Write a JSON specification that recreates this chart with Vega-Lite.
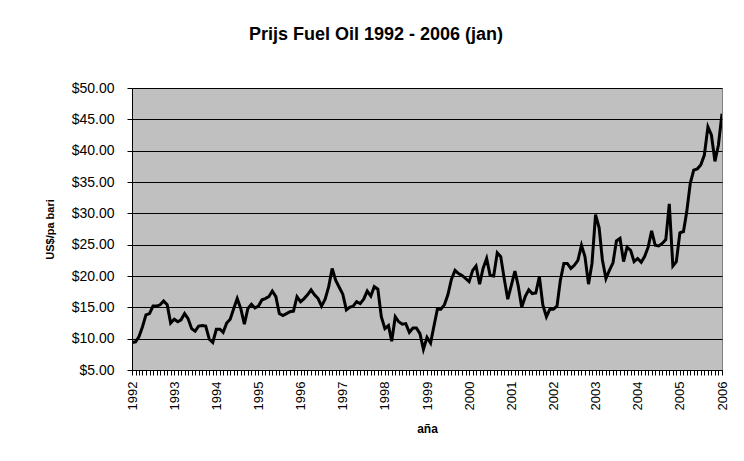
{
  "$schema": "https://vega.github.io/schema/vega-lite/v6.json",
  "autosize": "none",
  "width": 590,
  "height": 282,
  "padding": {"left": 132, "top": 88, "right": 22, "bottom": 91},
  "background": "white",
  "title": {
    "text": "Prijs Fuel Oil 1992 - 2006 (jan)",
    "font": "Liberation Sans",
    "fontSize": 18,
    "fontWeight": "bold",
    "color": "black",
    "anchor": "middle",
    "frame": "group",
    "dx": -51,
    "offset": 37
  },
  "data": {"values": [
    {"d":"1992-01","p":9.4},{"d":"1992-02","p":9.5},{"d":"1992-03","p":10.3},{"d":"1992-04","p":11.9},{"d":"1992-05","p":13.8},{"d":"1992-06","p":14.0},{"d":"1992-07","p":15.2},{"d":"1992-08","p":15.2},{"d":"1992-09","p":15.4},{"d":"1992-10","p":16.0},{"d":"1992-11","p":15.4},{"d":"1992-12","p":12.5},
    {"d":"1993-01","p":13.1},{"d":"1993-02","p":12.7},{"d":"1993-03","p":13.0},{"d":"1993-04","p":14.0},{"d":"1993-05","p":13.2},{"d":"1993-06","p":11.6},{"d":"1993-07","p":11.2},{"d":"1993-08","p":12.0},{"d":"1993-09","p":12.1},{"d":"1993-10","p":12.0},{"d":"1993-11","p":9.9},{"d":"1993-12","p":9.4},
    {"d":"1994-01","p":11.5},{"d":"1994-02","p":11.5},{"d":"1994-03","p":11.0},{"d":"1994-04","p":12.5},{"d":"1994-05","p":13.1},{"d":"1994-06","p":14.8},{"d":"1994-07","p":16.4},{"d":"1994-08","p":14.8},{"d":"1994-09","p":12.3},{"d":"1994-10","p":14.8},{"d":"1994-11","p":15.5},{"d":"1994-12","p":14.9},
    {"d":"1995-01","p":15.2},{"d":"1995-02","p":16.2},{"d":"1995-03","p":16.4},{"d":"1995-04","p":16.7},{"d":"1995-05","p":17.6},{"d":"1995-06","p":16.7},{"d":"1995-07","p":14.0},{"d":"1995-08","p":13.7},{"d":"1995-09","p":14.0},{"d":"1995-10","p":14.3},{"d":"1995-11","p":14.4},{"d":"1995-12","p":16.7},
    {"d":"1996-01","p":15.9},{"d":"1996-02","p":16.4},{"d":"1996-03","p":17.0},{"d":"1996-04","p":17.8},{"d":"1996-05","p":17.0},{"d":"1996-06","p":16.4},{"d":"1996-07","p":15.2},{"d":"1996-08","p":16.3},{"d":"1996-09","p":18.3},{"d":"1996-10","p":21.2},{"d":"1996-11","p":19.3},{"d":"1996-12","p":18.2},
    {"d":"1997-01","p":17.1},{"d":"1997-02","p":14.6},{"d":"1997-03","p":15.0},{"d":"1997-04","p":15.2},{"d":"1997-05","p":15.9},{"d":"1997-06","p":15.6},{"d":"1997-07","p":16.3},{"d":"1997-08","p":17.6},{"d":"1997-09","p":16.8},{"d":"1997-10","p":18.3},{"d":"1997-11","p":17.9},{"d":"1997-12","p":13.5},
    {"d":"1998-01","p":11.6},{"d":"1998-02","p":12.1},{"d":"1998-03","p":9.6},{"d":"1998-04","p":13.5},{"d":"1998-05","p":12.7},{"d":"1998-06","p":12.3},{"d":"1998-07","p":12.4},{"d":"1998-08","p":11.0},{"d":"1998-09","p":11.7},{"d":"1998-10","p":11.7},{"d":"1998-11","p":10.8},{"d":"1998-12","p":8.3},
    {"d":"1999-01","p":10.2},{"d":"1999-02","p":9.3},{"d":"1999-03","p":11.9},{"d":"1999-04","p":14.7},{"d":"1999-05","p":14.7},{"d":"1999-06","p":15.4},{"d":"1999-07","p":17.0},{"d":"1999-08","p":19.5},{"d":"1999-09","p":20.9},{"d":"1999-10","p":20.4},{"d":"1999-11","p":20.1},{"d":"1999-12","p":19.6},
    {"d":"2000-01","p":19.1},{"d":"2000-02","p":20.9},{"d":"2000-03","p":21.6},{"d":"2000-04","p":18.7},{"d":"2000-05","p":21.2},{"d":"2000-06","p":22.8},{"d":"2000-07","p":20.1},{"d":"2000-08","p":20.0},{"d":"2000-09","p":23.7},{"d":"2000-10","p":23.1},{"d":"2000-11","p":19.5},{"d":"2000-12","p":16.3},
    {"d":"2001-01","p":18.5},{"d":"2001-02","p":20.8},{"d":"2001-03","p":18.5},{"d":"2001-04","p":15.0},{"d":"2001-05","p":16.7},{"d":"2001-06","p":17.8},{"d":"2001-07","p":17.2},{"d":"2001-08","p":17.3},{"d":"2001-09","p":19.9},{"d":"2001-10","p":15.4},{"d":"2001-11","p":13.5},{"d":"2001-12","p":14.7},
    {"d":"2002-01","p":14.7},{"d":"2002-02","p":15.2},{"d":"2002-03","p":19.2},{"d":"2002-04","p":22.0},{"d":"2002-05","p":22.0},{"d":"2002-06","p":21.2},{"d":"2002-07","p":21.7},{"d":"2002-08","p":22.5},{"d":"2002-09","p":24.9},{"d":"2002-10","p":23.1},{"d":"2002-11","p":18.7},{"d":"2002-12","p":22.0},
    {"d":"2003-01","p":29.8},{"d":"2003-02","p":27.7},{"d":"2003-03","p":22.6},{"d":"2003-04","p":19.6},{"d":"2003-05","p":20.9},{"d":"2003-06","p":22.1},{"d":"2003-07","p":25.6},{"d":"2003-08","p":26.0},{"d":"2003-09","p":22.3},{"d":"2003-10","p":24.6},{"d":"2003-11","p":24.1},{"d":"2003-12","p":22.3},
    {"d":"2004-01","p":22.8},{"d":"2004-02","p":22.2},{"d":"2004-03","p":23.1},{"d":"2004-04","p":24.6},{"d":"2004-05","p":27.2},{"d":"2004-06","p":24.9},{"d":"2004-07","p":24.8},{"d":"2004-08","p":25.2},{"d":"2004-09","p":25.8},{"d":"2004-10","p":31.5},{"d":"2004-11","p":21.6},{"d":"2004-12","p":22.3},
    {"d":"2005-01","p":26.9},{"d":"2005-02","p":27.1},{"d":"2005-03","p":30.2},{"d":"2005-04","p":34.8},{"d":"2005-05","p":36.9},{"d":"2005-06","p":37.1},{"d":"2005-07","p":37.7},{"d":"2005-08","p":39.3},{"d":"2005-09","p":43.8},{"d":"2005-10","p":42.5},{"d":"2005-11","p":38.3},{"d":"2005-12","p":40.9},
    {"d":"2006-01","p":45.9}
  ]},
  "mark": {"type": "line", "color": "black", "strokeWidth": 3, "strokeJoin": "miter", "clip": true},
  "encoding": {
    "x": {
      "field": "d",
      "type": "temporal",
      "scale": {"type": "utc", "domain": ["1992-01-01", "2006-01-01"], "nice": false},
      "axis": {
        "title": "aña",
        "tickCount": {"interval": "month", "step": 1},
        "labelExpr": "utcmonth(datum.value) == 0 ? utcFormat(datum.value, '%Y') : ''",
        "labelAngle": -90,
        "labelAlign": "right",
        "labelBaseline": "middle",
        "labelOverlap": false,
        "labelFont": "Liberation Sans",
        "labelFontSize": 13,
        "labelColor": "black",
        "labelPadding": 6,
        "tickSize": 5,
        "tickColor": "black",
        "domainColor": "black",
        "grid": false,
        "titleFont": "Liberation Sans",
        "titleFontSize": 12,
        "titleFontWeight": "bold",
        "titleColor": "black",
        "titlePadding": 14
      }
    },
    "y": {
      "field": "p",
      "type": "quantitative",
      "scale": {"domain": [5, 50], "nice": false, "zero": false},
      "axis": {
        "title": "US$/pa bari",
        "values": [5, 10, 15, 20, 25, 30, 35, 40, 45, 50],
        "format": "$.2f",
        "labelFont": "Liberation Sans",
        "labelFontSize": 14,
        "labelColor": "black",
        "labelPadding": 13,
        "tickSize": 5,
        "tickColor": "black",
        "domainColor": "black",
        "grid": true,
        "gridColor": "black",
        "gridOpacity": 1,
        "gridWidth": 1,
        "titleFont": "Liberation Sans",
        "titleFontSize": 11,
        "titleFontWeight": "bold",
        "titleColor": "black",
        "titlePadding": 16
      }
    }
  },
  "config": {
    "view": {"fill": "#C0C0C0", "stroke": "#808080", "strokeWidth": 1}
  }
}
